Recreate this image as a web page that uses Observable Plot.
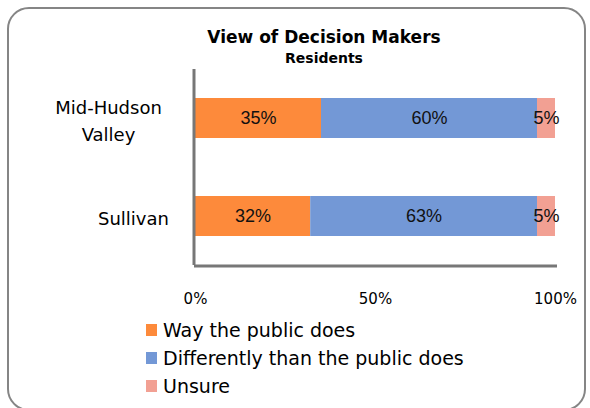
<!DOCTYPE html>
<html>
<head>
<meta charset="utf-8">
<script src="https://cdn.jsdelivr.net/npm/d3@7"></script>
<script src="https://cdn.jsdelivr.net/npm/@observablehq/plot@0.6"></script>
<style>
  html, body { margin: 0; padding: 0; background: #fff; }
  #wrap { position: relative; width: 590px; height: 408px; overflow: hidden; font-family: "DejaVu Sans", sans-serif; }
  #border { position: absolute; left: 7px; top: 7px; width: 579px; height: 404px; border: 2px solid #858585; border-radius: 22px; box-sizing: border-box; }
  #title { position: absolute; left: 0; width: 648px; top: 27px; text-align: center; font-weight: bold; font-size: 17px; color: #000; line-height: 20px; }
  #subtitle { position: absolute; left: 0; width: 648px; top: 50px; text-align: center; font-weight: bold; font-size: 14px; color: #000; line-height: 16px; }
  #chart { position: absolute; left: 0; top: 0; }
  #legend { position: absolute; left: 146px; top: 317px; font-size: 19px; color: #000; }
  .row { position: relative; height: 28px; line-height: 26px; white-space: nowrap; }
  .sw { position: absolute; left: 0; top: 7px; width: 11px; height: 12px; }
  .lbl { position: absolute; left: 17px; top: 0; }
</style>
</head>
<body>
<div id="wrap">
  <div id="border"></div>
  <div id="chart"></div>
  <div id="title">View of Decision Makers</div>
  <div id="subtitle">Residents</div>
  <div id="legend"></div>
</div>
<script>
const categories = ["Mid-Hudson Valley", "Sullivan"];
const categoryLines = ["Mid-Hudson\nValley", "Sullivan"];
const series = ["Way the public does", "Differently than the public does", "Unsure"];
const wayValues = [35, 32];
const differentlyValues = [60, 63];
const unsureValues = [5, 5];
const colors = ["#fd8a3b", "#7398d6", "#f2a093"];
const tickValues = [0, 50, 100];
const tickLabels = ["0%", "50%", "100%"];

const seriesValues = [wayValues, differentlyValues, unsureValues];
const rows = [];
categories.forEach((c, i) => {
  series.forEach((s, j) => {
    rows.push({category: c, series: s, value: seriesValues[j][i]});
  });
});

const plot = Plot.plot({
  width: 590,
  height: 408,
  marginTop: 69,
  marginBottom: 143,
  marginLeft: 195,
  marginRight: 35,
  style: {background: "transparent", overflow: "visible"},
  x: {domain: [0, 100], axis: null},
  y: {domain: categories, paddingInner: 0.59, paddingOuter: 0.295, axis: null},
  color: {domain: series, range: colors},
  marks: [
    Plot.barX(rows, Plot.stackX({x: "value", y: "category", z: "series", order: series, fill: "series"})),
    Plot.text(rows, Plot.stackX({x: "value", y: "category", z: "series", order: series,
      text: d => d.value + "%", fontSize: 18, fontFamily: "Liberation Sans, sans-serif", fill: "#111"})),
    Plot.ruleX([0], {stroke: "#777", strokeWidth: 3, dx: -1.5}),
    Plot.frame({anchor: "bottom", stroke: "#777", strokeWidth: 3, dy: 0.5}),
    Plot.axisX({ticks: tickValues, tickFormat: (d) => tickLabels[tickValues.indexOf(d)], tickSize: 0, tickPadding: 28,
      label: null, fontSize: 15, fontFamily: "DejaVu Sans, sans-serif", fill: "#000"}),
    Plot.text(categories.filter((c, i) => i === 0), {y: d => d, frameAnchor: "left", dx: -87,
      text: d => categoryLines[categories.indexOf(d)], textAnchor: "middle", lineHeight: 1.5,
      fontSize: 18, fontFamily: "DejaVu Sans, sans-serif", fill: "#000"}),
    Plot.text(categories.filter((c, i) => i === 1), {y: d => d, frameAnchor: "left", dx: -62,
      text: d => categoryLines[categories.indexOf(d)], textAnchor: "middle", lineHeight: 1.5,
      fontSize: 18, fontFamily: "DejaVu Sans, sans-serif", fill: "#000"})
  ]
});
document.getElementById("chart").appendChild(plot);

const legend = document.getElementById("legend");
series.forEach((s, j) => {
  const row = document.createElement("div");
  row.className = "row";
  row.innerHTML = `<span class="sw" style="background:${colors[j]}"></span><span class="lbl"></span>`;
  row.querySelector(".lbl").textContent = s;
  legend.appendChild(row);
});
</script>
</body>
</html>
